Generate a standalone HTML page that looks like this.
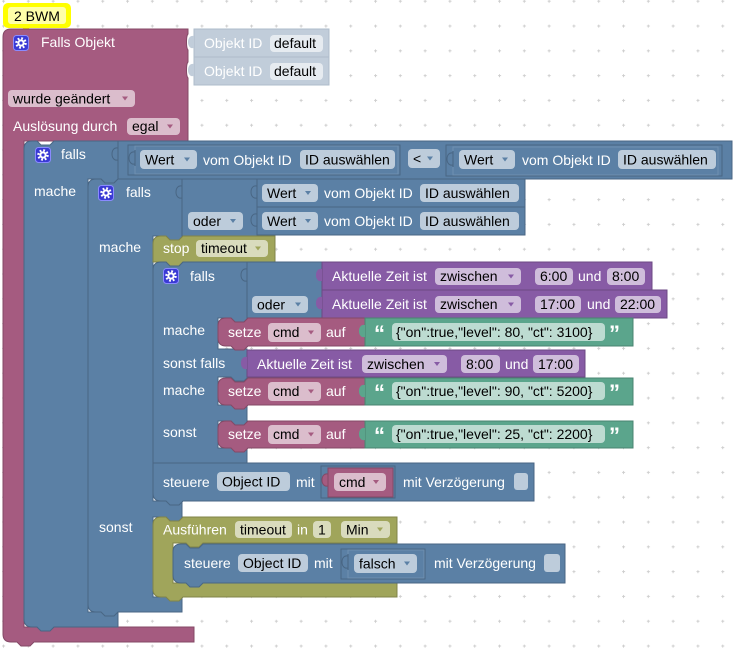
<!DOCTYPE html>
<html><head><meta charset="utf-8"><style>
html,body{margin:0;padding:0;background:#fff;}
svg{display:block;}
text{font-family:"Liberation Sans",Arial,sans-serif;font-size:14px;}
.w{fill:#fff;}
.k{fill:#000;}
.q{fill:#fff;font-size:22px;font-weight:bold;}
</style></head><body>
<svg width="740" height="650" viewBox="0 0 740 650" xmlns="http://www.w3.org/2000/svg">
<defs>
<pattern id="grid" x="-8.9" y="-11.2" width="24.8" height="24.8" patternUnits="userSpaceOnUse">
<path d="M11,12.4H14M12.4,11V14" stroke="#cfcfcf" stroke-width="1" fill="none"/>
</pattern>
</defs>
<rect x="0" y="0" width="740" height="650" fill="#fff"/>
<rect x="0" y="0" width="740" height="650" fill="url(#grid)"/>

<!-- comment -->
<path d="M22,27 L26,33 L30,27 Z" fill="#ffff00"/>
<rect x="3" y="3" width="68" height="25" rx="5" fill="#ffff00"/>
<rect x="8" y="7" width="58" height="17" rx="3" fill="#ffffa8"/>
<text x="14" y="21" class="k">2 BWM</text>

<!-- Object ID blocks -->
<rect x="194" y="29" width="135" height="28" fill="#c1cdda" stroke="#aebccb"/>
<rect x="194" y="57" width="135" height="28" fill="#c1cdda" stroke="#aebccb"/>
<path d="M194,34 V36 C186,34 186,50 194,48 V50 Z" fill="#c1cdda"/>
<path d="M194,62 V64 C186,62 186,78 194,76 V78 Z" fill="#c1cdda"/>
<text x="204" y="48" class="w">Objekt ID</text>
<rect x="270" y="35" width="53" height="17" rx="4" fill="#e6ebf0"/>
<text x="274" y="48" class="k">default</text>
<text x="204" y="76" class="w">Objekt ID</text>
<rect x="270" y="63" width="53" height="17" rx="4" fill="#e6ebf0"/>
<text x="274" y="76" class="k">default</text>

<!-- Pink main block -->
<path d="M3,37 Q3,29 11,29 H188 V34 C186,36 186,48 188,50 V62 C186,64 186,76 188,78 V141 H24 V627 H194 V642 H34 L30,646 H21 L17,642 H11 Q3,642 3,634 Z" fill="#a55b80" stroke="#844966" stroke-width="1"/>
<g transform="translate(13,35)"><rect x="0.5" y="0.5" width="15" height="15" rx="3" fill="#3a3ad4" stroke="#8a8aff"/><circle cx="8" cy="8" r="4.5" fill="none" stroke="#fff" stroke-width="2.5" stroke-dasharray="1.77 1.77"/><circle cx="8" cy="8" r="3.6" fill="#fff"/><circle cx="8" cy="8" r="1.6" fill="#3a3ad4"/></g>
<text x="41" y="47" class="w">Falls Objekt</text>
<rect x="8" y="90" width="127" height="17" rx="4" fill="#dbbdcc"/>
<text x="13" y="103.5" class="k">wurde geändert</text>
<polygon points="122,96.5 128,96.5 125,100.5" fill="#a55b80"/>
<text x="13" y="131" class="w">Auslösung durch</text>
<rect x="127" y="118" width="53" height="17" rx="4" fill="#dbbdcc"/>
<text x="132" y="131" class="k">egal</text>
<polygon points="167,124.5 173,124.5 170,128.5" fill="#a55b80"/>

<!-- L1 if block -->
<path d="M24,149 Q24,141 32,141 H37 L41,145 H50 L54,141 H118 V179 H118 L114,183 H105 L101,179 H88 V612 H118 V627 H54 L50,631 H41 L37,627 H32 Q24,627 24,619 Z" fill="#5b80a5" stroke="#496684" stroke-width="1"/>
<g transform="translate(35,147)"><rect x="0.5" y="0.5" width="15" height="15" rx="3" fill="#3a3ad4" stroke="#8a8aff"/><circle cx="8" cy="8" r="4.5" fill="none" stroke="#fff" stroke-width="2.5" stroke-dasharray="1.77 1.77"/><circle cx="8" cy="8" r="3.6" fill="#fff"/><circle cx="8" cy="8" r="1.6" fill="#3a3ad4"/></g>
<text x="61" y="159" class="w">falls</text>
<text x="34" y="196" class="w">mache</text>

<!-- compare block -->
<rect x="118" y="141" width="614" height="38" fill="#5b80a5" stroke="#496684"/>
<path d="M118,146 V148 C110,146 110,162 118,160 V162 Z" fill="#5b80a5" stroke="#496684"/>
<rect x="128" y="145" width="272" height="30" fill="none" stroke="#496684"/>
<rect x="135" y="146" width="263" height="28" fill="#5b80a5" stroke="#6f90b1"/>
<path d="M135,150 V152 C127,150 127,166 135,164 V166 Z" fill="#5b80a5" stroke="#496684"/>
<rect x="140" y="150" width="57" height="19" rx="4" fill="#bdccdb"/>
<text x="145" y="164.5" class="k">Wert</text>
<polygon points="184,157.5 190,157.5 187,161.5" fill="#5b80a5"/>
<text x="203" y="165" class="w">vom Objekt ID</text>
<rect x="300" y="150" width="95" height="19" rx="4" fill="#bdccdb"/>
<text x="305" y="164.5" class="k">ID auswählen</text>
<rect x="408" y="149" width="32" height="19" rx="4" fill="#bdccdb"/>
<text x="413" y="163.5" class="k">&lt;</text>
<polygon points="427,156.5 433,156.5 430,160.5" fill="#5b80a5"/>
<rect x="446" y="145" width="276" height="31" fill="none" stroke="#496684"/>
<rect x="453" y="147" width="265" height="28" fill="#5b80a5" stroke="#6f90b1"/>
<path d="M453,151 V153 C445,151 445,167 453,165 V167 Z" fill="#5b80a5" stroke="#496684"/>
<rect x="459" y="150" width="56" height="19" rx="4" fill="#bdccdb"/>
<text x="464" y="164.5" class="k">Wert</text>
<polygon points="502,157.5 508,157.5 505,161.5" fill="#5b80a5"/>
<text x="522" y="165" class="w">vom Objekt ID</text>
<rect x="618" y="150" width="98" height="19" rx="4" fill="#bdccdb"/>
<text x="623" y="164.5" class="k">ID auswählen</text>

<!-- L2 if block -->
<path d="M88,187 Q88,179 96,179 H101 L105,183 H114 L118,179 H182 V236 H183 L179,240 H170 L166,236 H153 V501 H182 V517 H183 L179,521 H170 L166,517 H153 V597 H182 V612 H118 L114,616 H105 L101,612 H96 Q88,612 88,604 Z" fill="#5b80a5" stroke="#496684" stroke-width="1"/>
<g transform="translate(98,185)"><rect x="0.5" y="0.5" width="15" height="15" rx="3" fill="#3a3ad4" stroke="#8a8aff"/><circle cx="8" cy="8" r="4.5" fill="none" stroke="#fff" stroke-width="2.5" stroke-dasharray="1.77 1.77"/><circle cx="8" cy="8" r="3.6" fill="#fff"/><circle cx="8" cy="8" r="1.6" fill="#3a3ad4"/></g>
<text x="126" y="197" class="w">falls</text>
<text x="99" y="252" class="w">mache</text>
<text x="99" y="532" class="w">sonst</text>

<!-- L2 oder op -->
<rect x="182" y="179" width="75" height="57" fill="#5b80a5" stroke="#496684"/>
<path d="M182,184 V186 C174,184 174,200 182,198 V200 Z" fill="#5b80a5" stroke="#496684"/>
<rect x="188" y="212" width="55" height="18" rx="4" fill="#bdccdb"/>
<text x="193" y="226" class="k">oder</text>
<polygon points="230,219 236,219 233,223" fill="#5b80a5"/>
<rect x="257" y="179" width="268" height="28" fill="#5b80a5" stroke="#496684"/>
<path d="M257,184 V186 C249,184 249,200 257,198 V200 Z" fill="#5b80a5" stroke="#496684"/>
<rect x="262" y="184" width="56" height="18" rx="4" fill="#bdccdb"/>
<text x="267" y="198" class="k">Wert</text>
<polygon points="305,191 311,191 308,195" fill="#5b80a5"/>
<text x="324" y="198" class="w">vom Objekt ID</text>
<rect x="420" y="184" width="99" height="18" rx="4" fill="#bdccdb"/>
<text x="425" y="198" class="k">ID auswählen</text>
<rect x="257" y="207" width="268" height="28" fill="#5b80a5" stroke="#496684"/>
<path d="M257,212 V214 C249,212 249,228 257,226 V228 Z" fill="#5b80a5" stroke="#496684"/>
<rect x="262" y="212" width="56" height="18" rx="4" fill="#bdccdb"/>
<text x="267" y="226" class="k">Wert</text>
<polygon points="305,219 311,219 308,223" fill="#5b80a5"/>
<text x="324" y="226" class="w">vom Objekt ID</text>
<rect x="420" y="212" width="99" height="18" rx="4" fill="#bdccdb"/>
<text x="425" y="226" class="k">ID auswählen</text>

<!-- stop block -->
<path d="M153,244 Q153,236 161,236 H166 L170,240 H179 L183,236 H275 V262 H183 L179,266 H170 L166,262 H153 Z" fill="#a0a55b" stroke="#808449"/>
<text x="163" y="253" class="w">stop</text>
<rect x="196" y="240" width="72" height="17" rx="4" fill="#d9dbbd"/>
<text x="201" y="253" class="k">timeout</text>
<polygon points="255,246.5 261,246.5 258,250.5" fill="#a0a55b"/>

<!-- L3 if block -->
<path d="M153,270 Q153,262 161,262 H166 L170,266 H179 L183,262 H247 V318 H248 L244,322 H235 L231,318 H218 V349 H247 V377 H248 L244,381 H235 L231,377 H218 V405 H247 V421 H248 L244,425 H235 L231,421 H218 V448 H247 V463 H153 Z" fill="#5b80a5" stroke="#496684" stroke-width="1"/>
<g transform="translate(163,268)"><rect x="0.5" y="0.5" width="15" height="15" rx="3" fill="#3a3ad4" stroke="#8a8aff"/><circle cx="8" cy="8" r="4.5" fill="none" stroke="#fff" stroke-width="2.5" stroke-dasharray="1.77 1.77"/><circle cx="8" cy="8" r="3.6" fill="#fff"/><circle cx="8" cy="8" r="1.6" fill="#3a3ad4"/></g>
<text x="190" y="281" class="w">falls</text>
<text x="163" y="335" class="w">mache</text>
<text x="163" y="368" class="w">sonst falls</text>
<text x="163" y="395" class="w">mache</text>
<text x="163" y="437" class="w">sonst</text>

<!-- L3 oder op -->
<rect x="247" y="262" width="75" height="56" fill="#5b80a5" stroke="#496684"/>
<path d="M247,267 V269 C239,267 239,283 247,281 V283 Z" fill="#5b80a5" stroke="#496684"/>
<rect x="252" y="296" width="56" height="17" rx="4" fill="#bdccdb"/>
<text x="257" y="309.5" class="k">oder</text>
<polygon points="295,302.5 301,302.5 298,306.5" fill="#5b80a5"/>

<!-- purple 1 -->
<rect x="322" y="262" width="330" height="28" fill="#875ba5" stroke="#6c4984"/>
<path d="M322,267 V269 C314,267 314,283 322,281 V283 Z" fill="#875ba5"/>
<text x="332" y="281" class="w">Aktuelle Zeit ist</text>
<rect x="435" y="268" width="86" height="17" rx="4" fill="#cfbddb"/>
<text x="440" y="281" class="k">zwischen</text>
<polygon points="508,274.5 514,274.5 511,278.5" fill="#875ba5"/>
<rect x="535" y="268" width="38" height="17" rx="4" fill="#cfbddb"/>
<text x="540" y="281" class="k">6:00</text>
<text x="578" y="281" class="w">und</text>
<rect x="607" y="268" width="38" height="17" rx="4" fill="#cfbddb"/>
<text x="612" y="281" class="k">8:00</text>
<!-- purple 2 -->
<rect x="322" y="290" width="345" height="28" fill="#875ba5" stroke="#6c4984"/>
<path d="M322,295 V297 C314,295 314,311 322,309 V311 Z" fill="#875ba5"/>
<text x="332" y="309" class="w">Aktuelle Zeit ist</text>
<rect x="435" y="296" width="86" height="17" rx="4" fill="#cfbddb"/>
<text x="440" y="309" class="k">zwischen</text>
<polygon points="508,302.5 514,302.5 511,306.5" fill="#875ba5"/>
<rect x="535" y="296" width="46" height="17" rx="4" fill="#cfbddb"/>
<text x="540" y="309" class="k">17:00</text>
<text x="587" y="309" class="w">und</text>
<rect x="615" y="296" width="46" height="17" rx="4" fill="#cfbddb"/>
<text x="620" y="309" class="k">22:00</text>

<!-- setze 1 -->
<path d="M218,326 Q218,318 226,318 H231 L235,322 H244 L248,318 H365 V346 H248 L244,350 H235 L231,346 H226 Q218,346 218,338 Z" fill="#a55b80" stroke="#844966"/>
<text x="228" y="337" class="w">setze</text>
<rect x="268" y="323" width="53" height="19" rx="4" fill="#dbbdcc"/>
<text x="273" y="337" class="k">cmd</text>
<polygon points="308,330.5 314,330.5 311,334.5" fill="#a55b80"/>
<text x="326" y="337" class="w">auf</text>
<rect x="365" y="318" width="268" height="28" fill="#5ba58c" stroke="#498470"/>
<path d="M365,323 V325 C357,323 357,339 365,337 V339 Z" fill="#5ba58c"/>
<text x="374" y="341" class="q">“</text>
<rect x="392" y="323" width="213" height="18" rx="4" fill="#bddbd1"/>
<text x="396" y="337" class="k">{"on":true,"level": 80, "ct": 3100}</text>
<text x="609" y="341" class="q">”</text>

<!-- purple 3 -->
<rect x="247" y="350" width="338" height="27" fill="#875ba5" stroke="#6c4984"/>
<path d="M247,355 V357 C239,355 239,371 247,369 V371 Z" fill="#875ba5"/>
<text x="257" y="369" class="w">Aktuelle Zeit ist</text>
<rect x="362" y="355" width="85" height="18" rx="4" fill="#cfbddb"/>
<text x="367" y="369" class="k">zwischen</text>
<polygon points="434,362 440,362 437,366" fill="#875ba5"/>
<rect x="461" y="355" width="39" height="18" rx="4" fill="#cfbddb"/>
<text x="466" y="369" class="k">8:00</text>
<text x="505" y="369" class="w">und</text>
<rect x="533" y="355" width="46" height="18" rx="4" fill="#cfbddb"/>
<text x="538" y="369" class="k">17:00</text>

<!-- setze 2 -->
<path d="M218,386 Q218,378 226,378 H231 L235,382 H244 L248,378 H365 V405 H248 L244,409 H235 L231,405 H226 Q218,405 218,397 Z" fill="#a55b80" stroke="#844966"/>
<text x="228" y="396" class="w">setze</text>
<rect x="268" y="382" width="53" height="19" rx="4" fill="#dbbdcc"/>
<text x="273" y="396" class="k">cmd</text>
<polygon points="308,389.5 314,389.5 311,393.5" fill="#a55b80"/>
<text x="326" y="396" class="w">auf</text>
<rect x="365" y="378" width="268" height="27" fill="#5ba58c" stroke="#498470"/>
<path d="M365,383 V385 C357,383 357,399 365,397 V399 Z" fill="#5ba58c"/>
<text x="374" y="400" class="q">“</text>
<rect x="392" y="382" width="213" height="18" rx="4" fill="#bddbd1"/>
<text x="396" y="396" class="k">{"on":true,"level": 90, "ct": 5200}</text>
<text x="609" y="400" class="q">”</text>

<!-- setze 3 -->
<path d="M218,429 Q218,421 226,421 H231 L235,425 H244 L248,421 H365 V448 H248 L244,452 H235 L231,448 H226 Q218,448 218,440 Z" fill="#a55b80" stroke="#844966"/>
<text x="228" y="439" class="w">setze</text>
<rect x="268" y="425" width="53" height="19" rx="4" fill="#dbbdcc"/>
<text x="273" y="439" class="k">cmd</text>
<polygon points="308,432.5 314,432.5 311,436.5" fill="#a55b80"/>
<text x="326" y="439" class="w">auf</text>
<rect x="365" y="421" width="268" height="27" fill="#5ba58c" stroke="#498470"/>
<path d="M365,426 V428 C357,426 357,442 365,440 V442 Z" fill="#5ba58c"/>
<text x="374" y="443" class="q">“</text>
<rect x="392" y="425" width="213" height="18" rx="4" fill="#bddbd1"/>
<text x="396" y="439" class="k">{"on":true,"level": 25, "ct": 2200}</text>
<text x="609" y="443" class="q">”</text>

<!-- steuere 1 -->
<path d="M153,463 H534 V501 H183 L179,505 H170 L166,501 H161 Q153,501 153,493 Z" fill="#5b80a5" stroke="#496684"/>
<text x="163" y="487" class="w">steuere</text>
<rect x="217" y="472" width="73" height="19" rx="4" fill="#bdccdb"/>
<text x="222" y="486.5" class="k">Object ID</text>
<text x="296" y="487" class="w">mit</text>
<rect x="321" y="466" width="74" height="32" fill="none" stroke="#496684"/>
<rect x="328" y="468" width="65" height="29" fill="#a55b80" stroke="#844966"/>
<path d="M328,472 V474 C320,472 320,488 328,486 V488 Z" fill="#a55b80" stroke="#844966"/>
<rect x="334" y="473" width="52" height="18" rx="4" fill="#dbbdcc"/>
<text x="339" y="487" class="k">cmd</text>
<polygon points="373,480 379,480 376,484" fill="#a55b80"/>
<text x="403" y="487" class="w">mit Verzögerung</text>
<rect x="514" y="473" width="14" height="17" rx="3" fill="#bdccdb"/>

<!-- Ausführen olive block -->
<path d="M161,517 H166 L170,521 H179 L183,517 H397 V543 H203 L199,547 H190 L186,543 H173 V583 H397 V597 H183 L179,601 H170 L166,597 H161 Q153,597 153,589 V525 Q153,517 161,517 Z" fill="#a0a55b" stroke="#808449"/>
<text x="163" y="534.5" class="w">Ausführen</text>
<rect x="235" y="521" width="57" height="17" rx="4" fill="#d9dbbd"/>
<text x="240" y="534.5" class="k">timeout</text>
<text x="297" y="534.5" class="w">in</text>
<rect x="313" y="521" width="18" height="17" rx="4" fill="#d9dbbd"/>
<text x="318" y="534.5" class="k">1</text>
<rect x="341" y="521" width="49" height="17" rx="4" fill="#d9dbbd"/>
<text x="346" y="534.5" class="k">Min</text>
<polygon points="377,527.5 383,527.5 380,531.5" fill="#a0a55b"/>

<!-- steuere 2 -->
<path d="M181,544 H186 L190,548 H199 L203,544 H565 V583 H203 L199,587 H190 L186,583 H181 Q173,583 173,575 V552 Q173,544 181,544 Z" fill="#5b80a5" stroke="#496684"/>
<text x="184" y="568" class="w">steuere</text>
<rect x="238" y="554" width="70" height="18" rx="4" fill="#bdccdb"/>
<text x="243" y="568" class="k">Object ID</text>
<text x="314" y="568" class="w">mit</text>
<rect x="341" y="549" width="84" height="30" fill="none" stroke="#496684"/>
<rect x="348" y="550" width="76" height="28" fill="#5b80a5" stroke="#6f90b1"/>
<path d="M348,554 V556 C340,554 340,570 348,568 V570 Z" fill="#5b80a5" stroke="#496684"/>
<rect x="354" y="554" width="63" height="19" rx="4" fill="#bdccdb"/>
<text x="359" y="568.5" class="k">falsch</text>
<polygon points="404,561.5 410,561.5 407,565.5" fill="#5b80a5"/>
<text x="434" y="568" class="w">mit Verzögerung</text>
<rect x="544" y="554" width="16" height="18" rx="3" fill="#bdccdb"/>
</svg>
</body></html>
